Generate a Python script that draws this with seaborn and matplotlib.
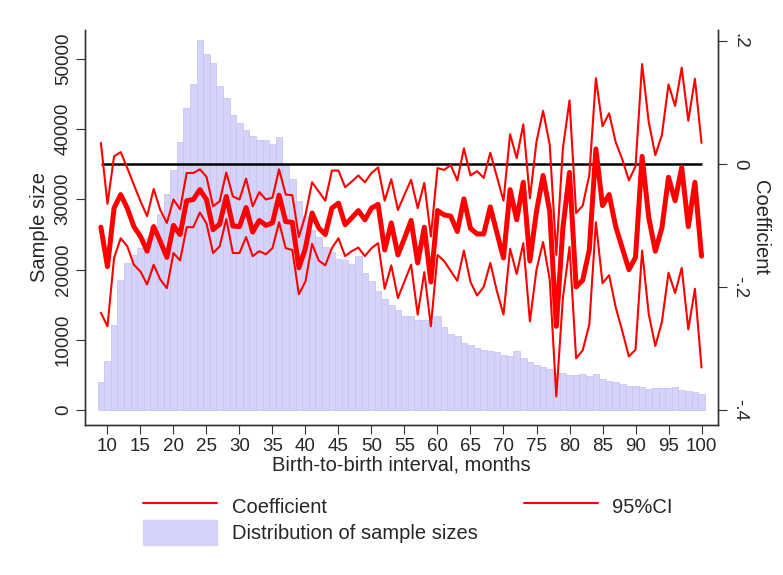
import numpy as np
import matplotlib
matplotlib.use("Agg")
import matplotlib.pyplot as plt
import seaborn as sns
from matplotlib.lines import Line2D
from matplotlib.patches import Patch

sns.set_style("white")
plt.rcParams['font.family'] = ['Liberation Sans', 'DejaVu Sans']

# birth-to-birth interval, months
months = np.arange(9, 101)

# sample size per interval
sizes = [4010, 7040, 12150, 18550, 20920, 22010, 23050, 24480, 26130, 27930,
         30780, 34190, 38070, 42950, 46410, 52670, 50680, 49350, 46030, 44380,
         42000, 40830, 39780, 39020, 38450, 38450, 37880, 38780, 34900, 32910,
         29680, 27550, 25660, 24560, 23140, 22490, 21540, 21290, 20820, 21860,
         19500, 18310, 16890, 15810, 15000, 14290, 13340, 13340, 12770, 12770,
         12720, 13340, 11770, 10870, 10490, 9550, 9310, 8840, 8550, 8360,
         8220, 7890, 7750, 8460, 7420, 6850, 6470, 6090, 5900, 5280,
         5280, 5050, 5050, 5140, 4810, 5140, 4430, 4100, 4000, 3770,
         3390, 3390, 3290, 3060, 3150, 3150, 3150, 3290, 2820, 2680,
         2580, 2300]

coef = [-0.103, -0.167, -0.072, -0.050, -0.072, -0.102, -0.118, -0.142, -0.102, -0.126,
        -0.152, -0.100, -0.115, -0.060, -0.058, -0.042, -0.058, -0.107, -0.098, -0.053,
        -0.101, -0.102, -0.071, -0.111, -0.092, -0.100, -0.096, -0.051, -0.094, -0.095,
        -0.169, -0.137, -0.080, -0.104, -0.115, -0.072, -0.064, -0.099, -0.088, -0.076,
        -0.091, -0.072, -0.066, -0.140, -0.096, -0.148, -0.121, -0.092, -0.161, -0.103,
        -0.192, -0.076, -0.083, -0.085, -0.110, -0.057, -0.105, -0.114, -0.114, -0.070,
        -0.112, -0.153, -0.042, -0.091, -0.030, -0.158, -0.077, -0.019, -0.077, -0.264,
        -0.104, -0.014, -0.200, -0.189, -0.140, 0.024, -0.068, -0.050, -0.102, -0.137,
        -0.172, -0.152, 0.012, -0.087, -0.142, -0.104, -0.022, -0.060, -0.006, -0.102,
        -0.030, -0.150]

ci_upper = [0.034, -0.065, 0.012, 0.019, -0.007, -0.034, -0.061, -0.085, -0.041, -0.075,
            -0.096, -0.058, -0.074, -0.015, -0.015, -0.009, -0.021, -0.069, -0.061, -0.014,
            -0.053, -0.058, -0.024, -0.069, -0.046, -0.058, -0.055, -0.009, -0.050, -0.051,
            -0.119, -0.083, -0.030, -0.045, -0.060, -0.011, -0.011, -0.038, -0.029, -0.019,
            -0.030, -0.015, -0.006, -0.060, -0.025, -0.075, -0.050, -0.026, -0.072, -0.031,
            -0.118, -0.007, -0.010, -0.002, -0.027, 0.025, -0.019, -0.012, -0.023, 0.018,
            -0.021, -0.060, 0.048, 0.009, 0.064, -0.056, 0.036, 0.086, 0.031, -0.148,
            0.025, 0.103, -0.080, -0.068, -0.018, 0.139, 0.061, 0.082, 0.035, 0.007,
            -0.027, -0.004, 0.162, 0.068, 0.014, 0.047, 0.129, 0.094, 0.156, 0.070,
            0.138, 0.034]

ci_lower = [-0.242, -0.264, -0.153, -0.121, -0.134, -0.164, -0.175, -0.196, -0.164, -0.188,
            -0.202, -0.145, -0.157, -0.103, -0.103, -0.079, -0.097, -0.145, -0.134, -0.090,
            -0.145, -0.145, -0.119, -0.150, -0.142, -0.147, -0.137, -0.095, -0.137, -0.140,
            -0.212, -0.191, -0.130, -0.157, -0.165, -0.137, -0.121, -0.150, -0.142, -0.136,
            -0.150, -0.137, -0.129, -0.203, -0.165, -0.218, -0.191, -0.164, -0.245, -0.176,
            -0.264, -0.148, -0.158, -0.174, -0.190, -0.141, -0.192, -0.214, -0.200, -0.161,
            -0.207, -0.245, -0.138, -0.179, -0.129, -0.256, -0.172, -0.127, -0.188, -0.378,
            -0.218, -0.135, -0.316, -0.303, -0.261, -0.095, -0.194, -0.181, -0.233, -0.272,
            -0.313, -0.302, -0.141, -0.244, -0.296, -0.257, -0.177, -0.210, -0.169, -0.269,
            -0.203, -0.331]

x_ticks = list(range(10, 101, 5))
left_ticks = [0, 10000, 20000, 30000, 40000, 50000]
right_ticks = [-0.4, -0.2, 0, 0.2]
right_labels = ["-.4", "-.2", "0", ".2"]

bar_col = "#d4d4fb"
tick_fs = 13.5
title_fs = 14.5

fig = plt.figure(figsize=(7.83, 5.75), dpi=100)
ax = fig.add_axes([0.1086, 0.2609, 0.8084, 0.6869])

sns.barplot(x=months, y=sizes, native_scale=True, width=1, color=bar_col,
            saturation=1, edgecolor="#c6c6f2", linewidth=0.6, ax=ax)

ax2 = ax.twinx()
ax2.hlines(0, months[0], months[-1], color="black", lw=1.8, zorder=1)
sns.lineplot(x=months, y=ci_upper, color="red", lw=1.5, ax=ax2)
sns.lineplot(x=months, y=ci_lower, color="red", lw=1.5, ax=ax2)
sns.lineplot(x=months, y=coef, color="red", lw=3.6, ax=ax2)

ax.set_xlim(6.6, 102.5)
ax.set_ylim(-2100, 54060)
ax2.set_ylim(-0.4243, 0.2173)

ax.set_xticks(x_ticks)
ax.set_xticklabels([str(t) for t in x_ticks], fontsize=tick_fs)
ax.set_yticks(left_ticks)
ax.set_yticklabels([str(t) for t in left_ticks], fontsize=tick_fs, rotation=90, va="center")
ax2.set_yticks(right_ticks)
ax2.set_yticklabels(right_labels, fontsize=tick_fs, rotation=270, va="center")

ax.set_xlabel("Birth-to-birth interval, months", fontsize=title_fs, labelpad=0)
ax.set_ylabel("Sample size", fontsize=title_fs, labelpad=4)
ax2.set_ylabel("Coefficient", fontsize=title_fs, rotation=270, labelpad=16)

for a in (ax, ax2):
    a.spines["top"].set_visible(False)
    for s in ("left", "right", "bottom"):
        a.spines[s].set_color("#333333")
        a.spines[s].set_linewidth(1)
ax.tick_params(axis="both", direction="out", length=6.5, width=0.8, color="#333333",
               bottom=True, left=True, pad=3)
ax2.tick_params(axis="y", direction="out", length=6.5, width=0.8, color="#333333",
                right=True, pad=3)

handles = [Line2D([], [], color="red", lw=1.5),
           Patch(facecolor=bar_col, edgecolor=bar_col),
           Line2D([], [], color="red", lw=1.5)]
labels = ["Coefficient", "Distribution of sample sizes", "95%CI"]
fig.legend(handles, labels, ncol=2, loc="upper left", bbox_to_anchor=(0.1826, 0.1409),
           frameon=False, fontsize=title_fs, handlelength=3.7, handleheight=1.5,
           handletextpad=0.7, columnspacing=2.3, labelspacing=0.08,
           borderpad=0, borderaxespad=0)

fig.savefig("out.png", dpi=100)
